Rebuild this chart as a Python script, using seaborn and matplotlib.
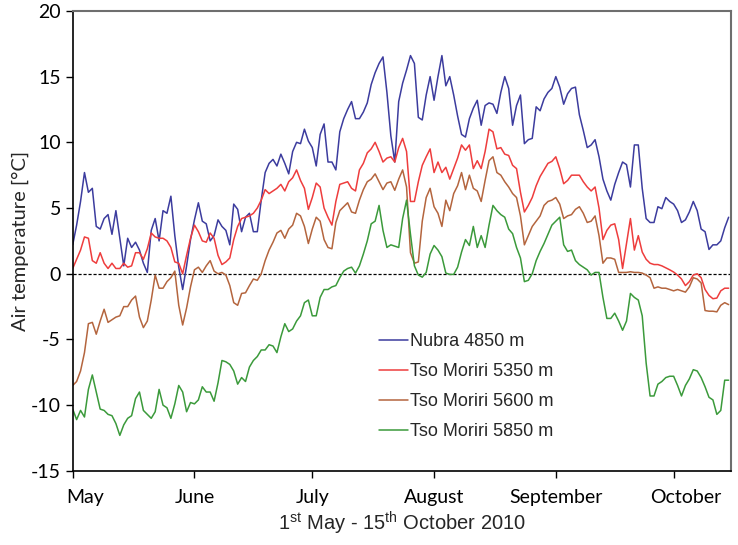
import numpy as np
import pandas as pd
import matplotlib
matplotlib.use("Agg")
import matplotlib.pyplot as plt
import matplotlib.dates as mdates
import matplotlib.transforms as mtrans
import seaborn as sns

# daily mean air temperature, 1 May - 15 Oct 2010
start_date = "2010-05-01"
stations = ["Nubra 4850 m", "Tso Moriri 5350 m", "Tso Moriri 5600 m", "Tso Moriri 5850 m"]
colors = ["#3c3c9e", "#ee3d3d", "#b4653e", "#3b9a3b"]

nubra_4850 = [
    2.2, 3.7, 5.5, 7.7, 6.2, 6.5, 3.6, 3.4, 4.2, 4.5,
    3.0, 4.8, 2.7, 0.6, 2.7, 2.0, 2.4, 1.8, 0.8, 0.1,
    3.3, 4.2, 2.5, 4.8, 4.6, 5.9, 2.9, 0.5, -1.2, 0.6,
    2.6, 4.1, 5.4, 4.0, 3.8, 2.5, 2.9, 4.1, 3.6, 3.3,
    2.2, 5.3, 4.9, 3.2, 4.3, 4.6, 3.2, 3.2, 5.6, 7.7,
    8.4, 8.7, 8.2, 9.1, 8.4, 7.6, 9.3, 10.0, 9.9, 11.0,
    10.1, 9.6, 8.2, 10.6, 11.4, 8.5, 8.5, 7.9, 10.8, 11.8,
    12.5, 13.1, 11.8, 11.8, 12.3, 13.0, 14.4, 15.3, 16.0, 16.5,
    13.8, 10.5, 8.5, 13.1, 14.5, 15.5, 16.6, 16.0, 11.9, 11.7,
    13.6, 15.0, 13.2, 15.0, 16.6, 14.3, 15.0, 13.6, 12.0, 10.6,
    10.4, 11.8, 12.6, 13.2, 11.3, 12.8, 13.0, 12.9, 12.2, 13.8,
    15.0, 14.1, 11.3, 12.8, 13.6, 9.9, 10.2, 10.3, 12.7, 12.4,
    13.3, 13.8, 14.1, 15.0, 14.2, 12.9, 13.7, 14.1, 14.2, 12.1,
    10.9, 9.6, 9.8, 10.2, 8.9, 7.2, 6.3, 5.6, 6.8, 7.7,
    8.5, 8.3, 6.6, 9.8, 9.8, 6.5, 4.2, 3.9, 3.9, 5.1,
    4.95, 5.8, 5.5, 5.3, 4.8, 3.9, 4.1, 4.7, 5.5, 4.8,
    3.4, 3.2, 1.85, 2.2, 2.2, 2.5, 3.5, 4.3,
]

tso_5350 = [
    0.4, 1.1, 1.8, 2.8, 2.7, 1.0, 0.8, 1.6, 0.8, 0.4,
    0.8, 0.4, 0.4, 0.8, 0.5, 0.6, 1.6, 1.6, 1.1, 1.9,
    3.1, 2.8, 2.7, 2.7, 2.5, 2.0, 0.9, 0.8, 0.0, 1.4,
    2.7, 3.7, 3.2, 2.5, 2.4, 3.1, 2.7, 1.4, 0.7, 0.9,
    1.2, 2.6, 3.6, 4.2, 4.3, 4.4, 4.6, 5.0, 5.6, 6.4,
    6.1, 6.3, 6.5, 6.8, 6.3, 7.0, 7.3, 7.9, 7.1, 6.5,
    4.9, 5.8, 6.9, 6.6, 5.0, 4.3, 3.7, 5.5, 6.8, 6.9,
    7.0, 6.5, 6.3, 7.9, 8.4, 9.2, 9.5, 10.0, 9.3, 8.5,
    8.8, 8.9, 8.5, 9.6, 10.3, 9.3, 5.5, 5.5, 7.0, 8.25,
    8.9, 9.5, 7.7, 8.5, 7.7, 8.1, 7.2, 8.0, 8.8, 9.8,
    9.4, 9.8, 8.0, 8.6, 8.0, 9.3, 11.0, 10.8, 9.5, 9.6,
    9.1, 9.0, 8.25, 8.0, 6.2, 4.7, 5.2, 5.8, 6.7, 7.4,
    7.9, 8.4, 8.55, 8.9, 8.0, 6.85, 7.1, 7.5, 7.5, 7.5,
    7.0, 6.6, 6.3, 6.6, 5.0, 2.6, 3.3, 3.7, 3.8, 2.6,
    0.4, 2.3, 4.2, 1.8, 2.9, 1.65, 1.1, 0.8, 0.7, 0.7,
    0.6, 0.45, 0.3, 0.13, -0.1, -0.4, -0.9, -0.6, -0.1, 0.0,
    -0.3, -1.2, -1.65, -1.9, -1.85, -1.3, -1.1, -1.1,
]

tso_5600 = [
    -8.5, -8.2, -7.4, -6.0, -3.8, -3.7, -4.6, -3.6, -2.7, -3.7,
    -3.5, -3.3, -3.2, -2.5, -2.5, -2.0, -1.7, -3.3, -4.1, -3.6,
    -2.0, -0.1, -1.1, -1.1, -0.6, -0.3, 0.2, -2.4, -3.9, -2.6,
    -1.0, 0.3, 0.5, 0.1, 0.6, 1.0, 0.2, 0.0, 0.1, -0.1,
    -0.9, -2.2, -2.4, -1.5, -1.45, -0.9, -0.4, -0.5, 0.0, 1.0,
    1.8, 2.4, 3.1, 3.3, 2.7, 3.4, 3.7, 4.6, 4.4, 3.6,
    2.3, 3.4, 4.3, 4.0, 2.6, 2.0, 1.9, 3.9, 4.8, 5.1,
    5.4, 4.7, 4.6, 5.6, 6.4, 7.0, 7.2, 7.6, 7.0, 6.4,
    6.9, 7.0, 6.35, 7.2, 7.9, 6.6, 1.6, 0.8, 0.9, 4.0,
    5.8, 6.5, 5.1, 4.6, 3.6, 5.6, 4.8, 6.1, 6.7, 7.7,
    6.4, 7.5, 6.5, 6.3, 5.5, 7.1, 8.6, 8.9, 7.7, 7.5,
    7.0, 6.6, 6.1, 5.8, 4.4, 2.2, 2.9, 3.6, 4.0, 4.4,
    5.2, 5.5, 5.6, 5.8, 5.3, 4.2, 4.4, 4.5, 4.9, 5.1,
    4.6, 3.9, 4.0, 4.4, 2.9, 0.8, 1.2, 1.2, 1.1, 0.1,
    0.1, 0.1, 0.15, 0.1, 0.1, 0.05, -0.1, -0.3, -1.1, -1.0,
    -1.1, -1.1, -1.2, -1.3, -1.2, -1.3, -1.4, -1.0, -0.3, -0.4,
    -0.7, -2.8, -2.85, -2.85, -2.9, -2.4, -2.2, -2.35,
]

tso_5850 = [
    -10.3, -11.1, -10.4, -10.9, -8.8, -7.7, -9.0, -10.3, -10.4, -10.7,
    -10.8, -11.4, -12.3, -11.5, -11.0, -10.8, -9.5, -9.0, -10.4, -10.7,
    -11.0, -10.5, -8.8, -10.0, -10.2, -11.0, -9.9, -8.5, -9.0, -10.5,
    -9.8, -9.9, -9.6, -8.6, -9.0, -9.0, -9.7, -8.3, -6.6, -6.7,
    -6.9, -7.4, -8.4, -7.9, -8.2, -7.1, -6.6, -6.3, -5.8, -5.8,
    -5.4, -5.5, -6.0, -4.8, -3.8, -4.4, -4.2, -3.6, -3.2, -2.2,
    -2.0, -3.2, -3.2, -1.8, -1.2, -1.2, -1.0, -0.9, -0.3, 0.2,
    0.4, 0.5, 0.05, 0.6, 1.5, 2.5, 3.8, 4.0, 5.2, 3.3,
    2.0, 2.2, 2.1, 2.0, 4.2, 5.6, 3.0, 0.6, -0.1, -0.26,
    0.1, 1.5, 2.15, 1.8, 1.3, 0.05, -0.05, -0.05, 0.5, 1.65,
    2.6, 2.15, 3.6, 2.0, 2.9, 2.0, 3.7, 5.2, 4.8, 4.5,
    4.3, 3.4, 3.05, 2.0, 1.2, -0.6, -0.5, 0.0, 1.0, 1.7,
    2.3, 3.0, 3.7, 4.0, 4.3, 2.2, 1.7, 1.8, 1.0, 0.7,
    0.5, 0.3, -0.1, 0.1, 0.1, -1.8, -3.4, -3.4, -3.0, -3.6,
    -4.3, -3.6, -1.5, -1.8, -2.0, -3.2, -6.8, -9.3, -9.3, -8.4,
    -8.2, -7.9, -7.8, -7.8, -8.5, -9.3, -8.5, -8.0, -7.3, -7.4,
    -7.9, -8.6, -9.4, -9.6, -10.7, -10.4, -8.1, -8.1,
]

y_ticks = [-15, -10, -5, 0, 5, 10, 15, 20]

sns.set_style("ticks")
plt.rcParams["font.family"] = ["Lato", "DejaVu Sans"]
plt.rcParams["axes.unicode_minus"] = False
plt.rcParams["mathtext.fontset"] = "custom"
plt.rcParams["mathtext.rm"] = "Liberation Sans"

series = [nubra_4850, tso_5350, tso_5600, tso_5850]
dates = pd.date_range(start_date, periods=len(nubra_4850), freq="D")
df = pd.DataFrame({
    "date": np.tile(dates.values, len(stations)),
    "temp": np.concatenate(series),
    "station": np.repeat(stations, len(dates)),
})

fig = plt.figure(figsize=(7.38, 5.45), dpi=100)
ax = fig.add_axes([0.0985, 0.136, 0.892, 0.844])

ax.axhline(0, color="black", lw=0.9, ls=(0, (2.5, 1.5)), zorder=1)
sns.lineplot(data=df, x="date", y="temp", hue="station", hue_order=stations,
             palette=dict(zip(stations, colors)), linewidth=1.1,
             errorbar=None, ax=ax, zorder=2)

ax.set_xlim(dates[0], dates[0] + pd.Timedelta(days=167.6))
ax.set_ylim(-15, 20)
ax.set_yticks(y_ticks)
ax.xaxis.set_major_locator(mdates.MonthLocator())
ax.xaxis.set_major_formatter(mdates.DateFormatter("%B"))
ax.tick_params(axis="both", direction="out", length=5, width=1, labelsize=14, colors="black")
ax.tick_params(axis="x", pad=8)

for side in ["left", "bottom"]:
    ax.spines[side].set_color("black")
    ax.spines[side].set_linewidth(1.2)
for side in ["top", "right"]:
    ax.spines[side].set_visible(True)
    ax.spines[side].set_color("#6e6e6e")
    ax.spines[side].set_linewidth(1.5)

ax.set_ylabel("Air temperature [°C]", fontsize=14.5, labelpad=1)
ax.set_xlabel(r"1$^{\rm st}$ May - 15$^{\rm th}$ October 2010", fontsize=14.5,
              family="Liberation Sans", labelpad=3)

handles, labels = ax.get_legend_handles_labels()
ax.legend(handles, labels, loc="upper left", bbox_to_anchor=(0.465, 0.30),
          frameon=False, prop={"family": "Liberation Sans", "size": 13},
          handlelength=1.6, handletextpad=0.15, labelspacing=0.72,
          borderpad=0, borderaxespad=0)

# first and last month labels sit a little right of their ticks in the original
fig.canvas.draw()
shift = mtrans.ScaledTranslation(9 / 72, 0, fig.dpi_scale_trans)
for lab in ax.get_xticklabels():
    if lab.get_text() in ("May", "October"):
        lab.set_transform(lab.get_transform() + shift)

fig.savefig("out.png", dpi=100)
